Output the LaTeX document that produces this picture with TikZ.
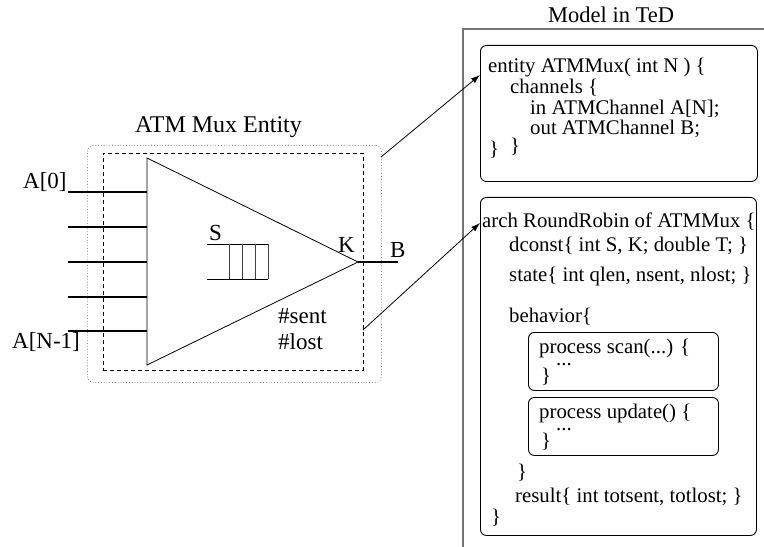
\documentclass[tikz,border=0pt]{standalone}
\usepackage{fontspec}
\setmainfont{Liberation Serif}
\usetikzlibrary{arrows.meta}
\begin{document}
\begin{tikzpicture}[x=1bp,y=-1bp,
  code/.style={anchor=base west, inner sep=0pt, font=\fontsize{20.8bp}{23bp}\selectfont},
  lbl/.style={anchor=base west, inner sep=0pt, font=\fontsize{23bp}{26bp}\selectfont},
  box/.style={draw, rounded corners=6bp, line width=0.9bp, anchor=north west, inner sep=0pt},
  thinline/.style={line width=0.8bp},
  wire/.style={line width=2.4bp},
  link/.style={line width=0.8bp, -{Latex[length=9bp,width=6bp]}},
  panel/.style={draw=black!55, line width=1.3bp}
]
\useasboundingbox (0,0) rectangle (764,547);

% right panel
\coordinate (pTR) at (764,29);
\coordinate (pTL) at (463,29);
\coordinate (pBL) at (463,547);
\draw[panel] (pTR) -- (pTL) -- (pBL);
\node[lbl, font=\fontsize{22.5bp}{26bp}\selectfont] (title) at (548,23) {Model in TeD};

% code boxes
\node[box, minimum width=277bp, minimum height=136bp] (ent) at (480,45) {};
\node[box, minimum width=276bp, minimum height=338bp] (arch) at (480,197) {};
\node[box, minimum width=190bp, minimum height=58bp] (p1) at (528,332) {};
\node[box, minimum width=190bp, minimum height=58bp] (p2) at (528,397) {};

% entity text
\node[code] (e1t) at (488,73) {entity ATMMux( int N ) \{};
\node[code] (e2t) at (510,94) {channels \{};
\node[code] (e3t) at (530,114.5) {in ATMChannel A[N];};
\node[code] (e4t) at (530,135) {out ATMChannel B;};
\node[code] (e5t) at (489,156) {\}};
\node[code] (e6t) at (510,153) {\}};

% arch text
\node[code] (a1t) at (482,227.5) {arch RoundRobin of ATMMux \{};
\node[code] (a2t) at (509,252) {dconst\{ int S, K; double T; \}};
\node[code] (a3t) at (509,282) {state\{ int qlen, nsent, nlost; \}};
\node[code] (a4t) at (509,322) {behavior\{};
\node[code] (s1t) at (539,353) {process scan(...) \{};
\node[code] (s2t) at (556,365) {...};
\node[code] (s3t) at (541,382) {\}};
\node[code] (u1t) at (539,418) {process update() \{};
\node[code] (u2t) at (556,430) {...};
\node[code] (u3t) at (541,447) {\}};
\node[code] (a5t) at (517,478) {\}};
\node[code] (a6t) at (515,502) {result\{ int totsent, totlost; \}};
\node[code] (a7t) at (491,523) {\}};

% left entity
\node[lbl, font=\fontsize{24bp}{26bp}\selectfont] (entlbl) at (135,133) {ATM Mux Entity};
\node[draw=black!45, dotted, rounded corners=6bp, line width=0.8bp, anchor=north west, inner sep=0pt,
      minimum width=294bp, minimum height=237bp] (outer) at (87,145) {};
\node[draw, dash pattern=on 4bp off 3bp, line width=0.8bp, anchor=north west, inner sep=0pt,
      minimum width=260bp, minimum height=217bp] (inner) at (103,153) {};

\coordinate (tT) at (147,158);
\coordinate (tB) at (147,365);
\coordinate (tK) at (358,262);
\draw[thinline] (tT) -- (tK) -- (tB) -- cycle;

\foreach \yy/\nn in {192/a0,227/a1,262/a2,297/a3,331/a4} {
  \coordinate (\nn s) at (68,\yy);
  \coordinate (\nn e) at (147,\yy);
  \draw[wire] (\nn s) -- (\nn e);
}
\coordinate (Bend) at (398,262);
\draw[wire] (tK) -- (Bend);

\node[lbl] (A0) at (23,189) {A[0]};
\node[lbl] (AN) at (12,348) {A[N-1]};
\node[lbl] (K) at (338,253) {K};
\node[lbl] (B) at (390,258) {B};
\node[lbl] (S) at (209,241) {S};
\node[lbl] (sent) at (278,323) {\#sent};
\node[lbl] (lost) at (278,349) {\#lost};

% queue
\coordinate (qTL) at (207,244);
\coordinate (qTR) at (268,244);
\coordinate (qBL) at (207,279);
\coordinate (qBR) at (268,279);
\draw[thinline] (qTL) -- (qTR) (qBL) -- (qBR);
\foreach \xx in {229,242,255,268} {
  \draw[line width=0.8bp, black!75] (\xx,244) -- (\xx,279);
}

% arrows
\coordinate (l1s) at (381,157);
\coordinate (l1e) at (480,75);
\coordinate (l2s) at (363,330);
\coordinate (l2e) at (480,223);
\draw[link] (l1s) -- (l1e);
\draw[link] (l2s) -- (l2e);
\end{tikzpicture}
\end{document}
